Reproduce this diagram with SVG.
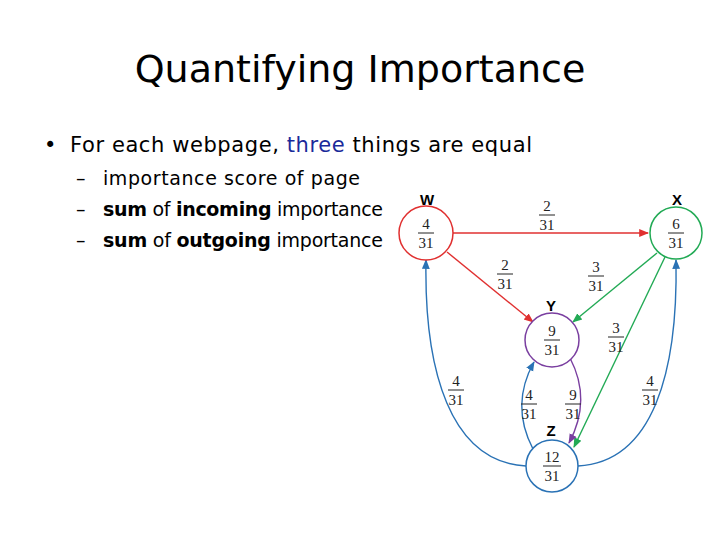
<svg xmlns="http://www.w3.org/2000/svg" width="720" height="540" viewBox="0 0 720 540">
<style>
.t{font-family:"DejaVu Sans",sans-serif;fill:#000}
.f{font-family:"Liberation Serif",serif;font-size:15px;text-anchor:middle;fill:#222}
.fl{stroke:#222;stroke-width:1}
.nl{font-family:"Liberation Sans",sans-serif;font-weight:bold;font-size:15px;text-anchor:middle}
.e{fill:none;stroke-width:1.4}
</style>
<defs>
<marker id="ar" viewBox="0 0 10 10" refX="9" refY="5" markerWidth="7" markerHeight="7" orient="auto"><path d="M0,1L10,5L0,9z" fill="#e03030"/></marker>
<marker id="ag" viewBox="0 0 10 10" refX="9" refY="5" markerWidth="7" markerHeight="7" orient="auto"><path d="M0,1L10,5L0,9z" fill="#22aa55"/></marker>
<marker id="ab" viewBox="0 0 10 10" refX="9" refY="5" markerWidth="7" markerHeight="7" orient="auto"><path d="M0,1L10,5L0,9z" fill="#2a72b5"/></marker>
<marker id="ap" viewBox="0 0 10 10" refX="9" refY="5" markerWidth="7" markerHeight="7" orient="auto"><path d="M0,1L10,5L0,9z" fill="#7a3fa0"/></marker>
</defs>
<rect width="720" height="540" fill="#fff"/>
<text class="t" x="360" y="82" font-size="38" text-anchor="middle">Quantifying Importance</text>
<text class="t" x="44" y="152" font-size="21">•</text>
<text class="t" x="70" y="152" font-size="21" textLength="462" lengthAdjust="spacing">For each webpage, <tspan fill="#1a2a9a">three</tspan> things are equal</text>
<g class="t" font-size="19">
<text x="76" y="185">–</text><text x="103" y="185" textLength="257" lengthAdjust="spacing">importance score of page</text>
<text x="76" y="216">–</text><text x="103" y="216" textLength="280" lengthAdjust="spacing"><tspan font-weight="bold">sum</tspan> of <tspan font-weight="bold">incoming</tspan> importance</text>
<text x="76" y="247">–</text><text x="103" y="247" textLength="280" lengthAdjust="spacing"><tspan font-weight="bold">sum</tspan> of <tspan font-weight="bold">outgoing</tspan> importance</text>
</g>
<g id="connectors">
<path class="e" stroke="#e03030" d="M453,233L648,233" marker-end="url(#ar)"/>
<path class="e" stroke="#e03030" d="M447,252L533,322" marker-end="url(#ar)"/>
<path class="e" stroke="#22aa55" d="M657,253L573,322" marker-end="url(#ag)"/>
<path class="e" stroke="#22aa55" d="M665,257L574,447" marker-end="url(#ag)"/>
<path class="e" stroke="#7a3fa0" d="M570,358Q592,400 569,443" marker-end="url(#ap)"/>
<path class="e" stroke="#2a72b5" d="M533,449Q510,405 534,362" marker-end="url(#ab)"/>
<path class="e" stroke="#2a72b5" d="M526,466C450,462 424,370 426,260" marker-end="url(#ab)"/>
<path class="e" stroke="#2a72b5" d="M578,466C654,462 678,370 676,260" marker-end="url(#ab)"/>
<g>
<text class="f" x="547" y="211">2</text><line class="fl" x1="539" y1="215" x2="555" y2="215"/><text class="f" x="547" y="230">31</text>
<text class="f" x="505" y="270">2</text><line class="fl" x1="497" y1="274" x2="513" y2="274"/><text class="f" x="505" y="289">31</text>
<text class="f" x="596" y="272">3</text><line class="fl" x1="588" y1="276" x2="604" y2="276"/><text class="f" x="596" y="291">31</text>
<text class="f" x="616" y="333">3</text><line class="fl" x1="608" y1="337" x2="624" y2="337"/><text class="f" x="616" y="352">31</text>
<text class="f" x="456" y="386">4</text><line class="fl" x1="448" y1="390" x2="464" y2="390"/><text class="f" x="456" y="405">31</text>
<text class="f" x="529" y="400">4</text><line class="fl" x1="521" y1="404" x2="537" y2="404"/><text class="f" x="529" y="419">31</text>
<text class="f" x="573" y="400">9</text><line class="fl" x1="565" y1="404" x2="581" y2="404"/><text class="f" x="573" y="419">31</text>
<text class="f" x="650" y="386">4</text><line class="fl" x1="642" y1="390" x2="658" y2="390"/><text class="f" x="650" y="405">31</text>
</g>
</g>
<g id="W"><circle cx="426" cy="233" r="27" fill="#fff" stroke="#e03030" stroke-width="1.5"/><text class="nl" x="427" y="205">W</text>
<text class="f" x="426" y="229">4</text><line class="fl" x1="418" y1="233" x2="434" y2="233"/><text class="f" x="426" y="248">31</text></g>
<g id="X"><circle cx="676" cy="233" r="26" fill="#fff" stroke="#22aa55" stroke-width="1.5"/><text class="nl" x="677" y="205">X</text>
<text class="f" x="676" y="229">6</text><line class="fl" x1="668" y1="233" x2="684" y2="233"/><text class="f" x="676" y="248">31</text></g>
<g id="Y"><circle cx="552" cy="340" r="27" fill="#fff" stroke="#7a3fa0" stroke-width="1.5"/><text class="nl" x="551" y="311">Y</text>
<text class="f" x="552" y="336">9</text><line class="fl" x1="544" y1="340" x2="560" y2="340"/><text class="f" x="552" y="355">31</text></g>
<g id="Z"><circle cx="552" cy="466" r="26" fill="#fff" stroke="#2a72b5" stroke-width="1.5"/><text class="nl" x="551" y="436">Z</text>
<text class="f" x="552" y="462">12</text><line class="fl" x1="543" y1="466" x2="561" y2="466"/><text class="f" x="552" y="481">31</text></g>
</svg>
